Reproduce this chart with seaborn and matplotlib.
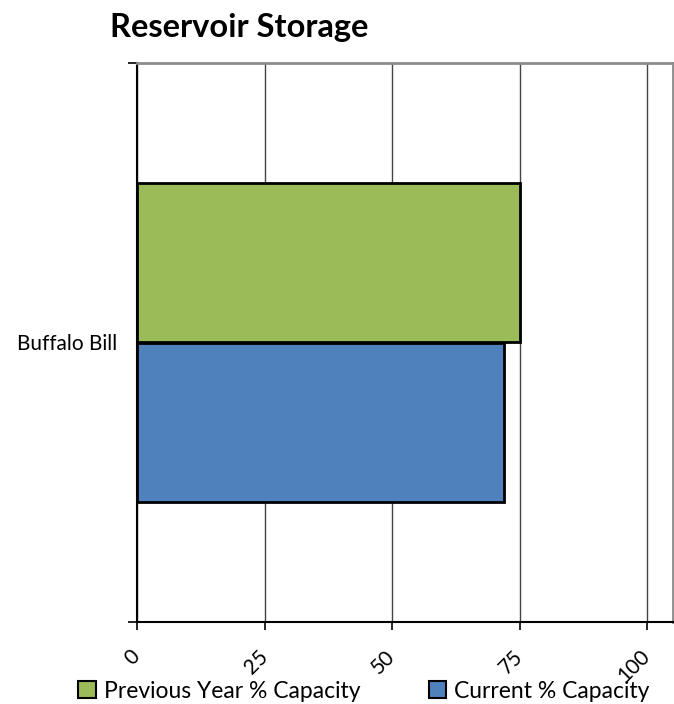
import matplotlib
matplotlib.use("Agg")
import matplotlib.pyplot as plt
import seaborn as sns
import pandas as pd
from matplotlib.patches import Patch

categories = ["Buffalo Bill"]
series_names = ["Previous Year % Capacity", "Current % Capacity"]
previous_year = [75]
current = [72]
x_ticks = [0, 25, 50, 75, 100]
colors = ["#9BBB59", "#4F81BD"]

rows = []
for i, c in enumerate(categories):
    rows.append({"Reservoir": c, "Series": series_names[0], "Value": previous_year[i]})
    rows.append({"Reservoir": c, "Series": series_names[1], "Value": current[i]})
df = pd.DataFrame(rows)

sns.set_style("white")
plt.rcParams["font.family"] = ["Lato", "DejaVu Sans"]
plt.rcParams["text.color"] = "black"
plt.rcParams["xtick.color"] = "black"
plt.rcParams["ytick.color"] = "black"

fig = plt.figure(figsize=(6.74, 7.04), dpi=100)
ax = fig.add_axes([137 / 674, 1 - 622 / 704, (672.5 - 137) / 674, (622 - 63) / 704])

sns.barplot(data=df, y="Reservoir", x="Value", hue="Series", orient="h",
            palette=colors, width=0.57, edgecolor="black", linewidth=2,
            ax=ax, legend=False, saturation=1, zorder=3)

ax.set_xlim(0, 105)
ax.set_ylim(0.5, -0.5)
ax.set_xticks(x_ticks)
ax.set_xticklabels([str(t) for t in x_ticks], rotation=45, ha="right",
                   va="center", rotation_mode="anchor", fontsize=15)
ax.set_yticks([-0.5, 0.5], minor=True)
ax.set_yticks([0])
ax.set_yticklabels(categories, fontsize=15)
ax.tick_params(axis="y", which="major", length=0, pad=14.4)
ax.tick_params(axis="y", which="minor", length=6.5, width=1.2, color="black",
               direction="out", left=True)
ax.tick_params(axis="x", which="major", length=6, width=1.2, color="black",
               direction="out", bottom=True, pad=16.5)
ax.xaxis.grid(True, color="#444444", linewidth=1, zorder=0)
ax.yaxis.grid(False)
ax.set_axisbelow(True)
ax.set_xlabel("")
ax.set_ylabel("")

ax.spines["left"].set_color("black")
ax.spines["left"].set_linewidth(1.5)
ax.spines["bottom"].set_color("black")
ax.spines["bottom"].set_linewidth(1.5)
ax.spines["top"].set_color("#8c8c8c")
ax.spines["top"].set_linewidth(2)
ax.spines["right"].set_color("#8c8c8c")
ax.spines["right"].set_linewidth(2)

fig.text(110 / 674, 1 - 37 / 704, "Reservoir Storage", fontsize=23.5, fontweight="bold",
         ha="left", va="baseline")

handles = [Patch(facecolor=colors[0], edgecolor="black", linewidth=1.5),
           Patch(facecolor=colors[1], edgecolor="black", linewidth=1.5)]
fig.legend(handles, series_names, loc="center", bbox_to_anchor=(364 / 674, 1 - 691 / 704),
           ncol=2, frameon=False, fontsize=16.5, handlelength=0.75, handleheight=0.75,
           handletextpad=0.35, columnspacing=3.0, borderpad=0)

fig.savefig("out.png", dpi=100)
